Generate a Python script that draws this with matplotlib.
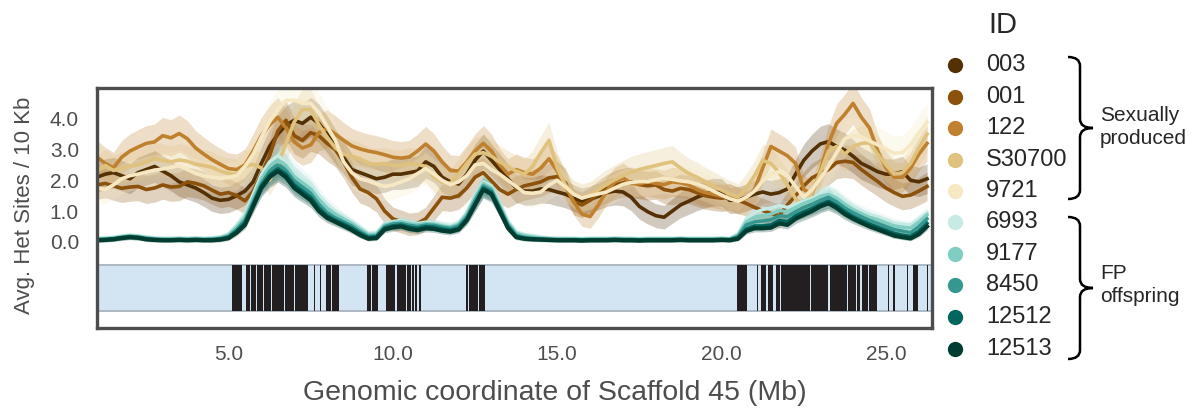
import numpy as np
import matplotlib
matplotlib.use("Agg")
import matplotlib.pyplot as plt
from matplotlib.path import Path
from matplotlib.patches import PathPatch
from matplotlib.lines import Line2D

plt.rcParams['font.family'] = ['Liberation Sans', 'DejaVu Sans']

# ---------------- data ----------------
window_start_mb = 1.0
window_step_mb = 0.25

ids = ["003", "001", "122", "S30700", "9721", "6993", "9177", "8450", "12512", "12513"]
groups = {"Sexually\nproduced": ["003", "001", "122", "S30700", "9721"],
          "FP\noffspring": ["6993", "9177", "8450", "12512", "12513"]}

het_003 = [2.10, 2.20, 2.25, 2.15, 2.05, 2.25, 2.35, 2.45,
           2.30, 2.15, 1.95, 1.85, 1.75, 1.60, 1.42, 1.35,
           1.38, 1.50, 1.65, 1.95, 2.55, 3.10, 3.50, 3.80,
           3.95, 3.85, 4.05, 3.85, 3.50, 3.10, 2.75, 2.35,
           2.25, 2.15, 2.05, 2.10, 2.20, 2.20, 2.25, 2.30,
           2.60, 2.45, 2.10, 1.95, 1.88, 2.20, 2.65, 2.95,
           2.65, 2.35, 2.05, 1.75, 1.65, 1.65, 1.72, 1.70,
           1.62, 1.55, 1.42, 1.32, 1.38, 1.48, 1.60, 1.65,
           1.62, 1.45, 1.15, 0.98, 0.85, 0.80, 1.00, 1.20,
           1.32, 1.45, 1.55, 1.62, 1.60, 1.35, 1.36, 1.45,
           1.55, 1.62, 1.55, 1.60, 1.72, 2.20, 2.65, 2.95,
           3.18, 3.26, 3.10, 2.98, 2.78, 2.55, 2.42, 2.28,
           2.20, 2.20, 2.28, 2.00, 1.95, 2.05]
het_001 = [1.85, 1.90, 1.82, 1.74, 1.78, 1.80, 1.70, 1.75,
           1.85, 1.78, 1.80, 1.95, 1.90, 1.82, 1.68, 1.55,
           1.60, 1.50, 1.33, 1.65, 2.20, 2.80, 3.60, 3.95,
           3.45, 3.30, 3.55, 3.45, 3.20, 3.00, 2.60, 2.10,
           1.72, 1.60, 1.40, 1.00, 0.75, 0.66, 0.57, 0.60,
           0.75, 1.10, 1.45, 1.42, 1.50, 1.75, 2.10, 2.25,
           1.98, 1.70, 1.55, 1.70, 1.82, 1.88, 1.95, 2.08,
           2.12, 1.92, 1.30, 1.20, 1.35, 1.55, 1.72, 1.85,
           1.92, 1.95, 1.86, 1.82, 1.85, 1.70, 1.65, 1.74,
           1.70, 1.60, 1.50, 1.45, 1.42, 1.45, 1.35, 1.25,
           1.12, 1.02, 0.92, 0.85, 1.20, 1.50, 1.82, 2.08,
           2.22, 2.35, 2.58, 2.62, 2.58, 2.35, 2.15, 1.96,
           1.75, 1.60, 1.48, 1.52, 1.65, 1.80]
het_122 = [2.75, 2.55, 2.40, 2.75, 2.95, 3.08, 3.20, 3.25,
           3.45, 3.38, 3.52, 3.35, 3.05, 2.85, 2.67, 2.52,
           2.38, 2.35, 2.50, 2.95, 3.45, 3.80, 4.05, 3.70,
           3.25, 3.05, 3.15, 3.55, 3.68, 3.50, 3.30, 3.12,
           3.02, 2.95, 2.90, 2.83, 2.75, 2.72, 2.76, 2.95,
           3.18, 2.95, 2.60, 2.32, 2.30, 2.60, 2.95, 3.20,
           2.95, 2.50, 2.20, 2.35, 2.25, 2.20, 2.40, 2.70,
           2.30, 1.80, 1.30, 0.90, 0.82, 1.20, 1.65, 1.95,
           2.08, 1.90, 1.88, 1.96, 1.90, 1.86, 1.95, 1.92,
           1.85, 1.70, 1.60, 1.55, 1.48, 1.45, 1.32, 1.42,
           1.70, 2.40, 3.10, 2.95, 2.80, 2.55, 1.70, 1.55,
           2.30, 3.20, 3.85, 4.15, 4.50, 4.05, 3.70, 2.95,
           2.40, 2.10, 2.10, 2.40, 2.85, 3.20]
het_S30700 = [2.30, 2.48, 2.32, 2.40, 2.46, 2.50, 2.60, 2.70,
              2.65, 2.60, 2.66, 2.62, 2.52, 2.48, 2.42, 2.30,
              2.22, 2.20, 2.45, 2.52, 2.40, 2.00, 2.50, 3.20,
              3.90, 4.30, 4.30, 3.80, 3.40, 3.05, 2.85, 2.78,
              2.70, 2.55, 2.52, 2.55, 2.48, 2.47, 2.54, 2.52,
              2.45, 2.10, 1.94, 1.90, 2.20, 2.55, 2.85, 2.90,
              2.78, 2.60, 2.45, 2.30, 2.20, 2.45, 2.90, 3.30,
              2.40, 1.85, 1.55, 1.45, 1.52, 1.70, 1.88, 2.02,
              2.15, 2.28, 2.35, 2.42, 2.48, 2.55, 2.60, 2.40,
              2.22, 2.10, 1.95, 1.82, 1.68, 1.55, 1.45, 1.75,
              2.15, 2.65, 2.55, 2.25, 1.85, 1.40, 1.15, 1.60,
              2.25, 2.95, 3.10, 2.85, 3.10, 3.20, 3.22, 2.85,
              2.50, 2.20, 2.25, 2.55, 3.05, 3.50]
het_9721 = [1.75, 1.70, 1.85, 2.05, 2.15, 2.20, 2.27, 2.33,
            2.37, 2.42, 2.48, 2.35, 2.22, 2.15, 2.10, 2.07,
            2.10, 2.15, 2.45, 2.85, 3.40, 3.90, 4.30, 4.60,
            4.60, 4.50, 4.50, 4.20, 3.75, 3.30, 2.60, 2.25,
            2.05, 1.98, 1.88, 1.80, 1.85, 1.95, 2.05, 2.22,
            2.38, 2.20, 2.00, 1.86, 1.95, 2.15, 2.50, 2.55,
            2.35, 2.20, 2.00, 1.80, 1.60, 1.58, 1.62, 1.85,
            2.00, 1.78, 1.55, 1.42, 1.50, 1.56, 1.62, 1.75,
            1.87, 1.93, 1.96, 1.96, 2.02, 2.07, 2.03, 1.98,
            1.95, 1.88, 1.78, 1.65, 1.52, 1.40, 1.32, 1.45,
            1.65, 1.98, 2.20, 2.28, 2.15, 1.80, 1.45, 1.70,
            2.05, 2.45, 2.90, 3.35, 3.45, 3.42, 3.28, 3.15,
            3.02, 2.88, 2.90, 3.15, 3.55, 3.88]
het_6993 = [0.12, 0.13, 0.15, 0.19, 0.22, 0.20, 0.16, 0.13,
            0.12, 0.12, 0.13, 0.12, 0.13, 0.12, 0.13, 0.16,
            0.26, 0.55, 0.90, 1.55, 2.18, 2.60, 2.80, 2.62,
            2.25, 2.05, 1.85, 1.50, 1.22, 1.00, 0.82, 0.66,
            0.48, 0.28, 0.30, 0.60, 0.66, 0.70, 0.64, 0.60,
            0.64, 0.62, 0.56, 0.52, 0.62, 0.95, 1.52, 1.95,
            1.82, 1.25, 0.68, 0.32, 0.24, 0.20, 0.16, 0.13,
            0.12, 0.12, 0.12, 0.11, 0.12, 0.12, 0.12, 0.13,
            0.12, 0.12, 0.11, 0.12, 0.12, 0.12, 0.12, 0.13,
            0.12, 0.12, 0.12, 0.12, 0.13, 0.12, 0.26, 0.75,
            0.95, 1.05, 1.10, 1.18, 1.12, 1.22, 1.32, 1.42,
            1.55, 1.60, 1.48, 1.30, 1.12, 1.00, 0.90, 0.82,
            0.72, 0.62, 0.58, 0.55, 0.75, 0.95]
het_9177 = [0.10, 0.11, 0.13, 0.17, 0.20, 0.18, 0.14, 0.11,
            0.10, 0.10, 0.11, 0.10, 0.11, 0.10, 0.11, 0.14,
            0.22, 0.48, 0.80, 1.42, 2.05, 2.45, 2.65, 2.48,
            2.12, 1.92, 1.72, 1.38, 1.10, 0.90, 0.75, 0.60,
            0.42, 0.24, 0.25, 0.55, 0.62, 0.66, 0.60, 0.56,
            0.60, 0.58, 0.52, 0.48, 0.58, 0.90, 1.45, 1.90,
            1.75, 1.18, 0.62, 0.28, 0.20, 0.16, 0.13, 0.11,
            0.10, 0.10, 0.10, 0.09, 0.10, 0.10, 0.10, 0.11,
            0.10, 0.10, 0.09, 0.10, 0.10, 0.10, 0.10, 0.11,
            0.10, 0.10, 0.10, 0.10, 0.11, 0.10, 0.22, 0.65,
            0.80, 0.85, 0.90, 1.02, 0.98, 1.12, 1.25, 1.35,
            1.48, 1.55, 1.42, 1.22, 1.05, 0.92, 0.80, 0.72,
            0.62, 0.52, 0.48, 0.45, 0.65, 0.88]
het_8450 = [0.08, 0.09, 0.11, 0.15, 0.18, 0.16, 0.12, 0.09,
            0.08, 0.08, 0.09, 0.08, 0.09, 0.08, 0.09, 0.11,
            0.18, 0.40, 0.70, 1.30, 1.90, 2.30, 2.50, 2.32,
            1.98, 1.78, 1.58, 1.22, 0.95, 0.78, 0.65, 0.52,
            0.34, 0.18, 0.20, 0.50, 0.58, 0.60, 0.54, 0.50,
            0.55, 0.54, 0.48, 0.44, 0.52, 0.82, 1.35, 1.82,
            1.68, 1.12, 0.56, 0.22, 0.15, 0.12, 0.10, 0.09,
            0.08, 0.08, 0.08, 0.07, 0.08, 0.08, 0.08, 0.09,
            0.08, 0.08, 0.07, 0.08, 0.08, 0.08, 0.08, 0.09,
            0.08, 0.08, 0.08, 0.08, 0.09, 0.08, 0.18, 0.55,
            0.65, 0.68, 0.72, 0.85, 0.82, 0.98, 1.12, 1.22,
            1.35, 1.45, 1.30, 1.10, 0.95, 0.82, 0.70, 0.60,
            0.50, 0.40, 0.35, 0.30, 0.50, 0.75]
het_12512 = [0.07, 0.08, 0.10, 0.14, 0.16, 0.14, 0.10, 0.08,
             0.07, 0.07, 0.08, 0.07, 0.08, 0.07, 0.07, 0.09,
             0.15, 0.35, 0.62, 1.22, 1.82, 2.18, 2.38, 2.20,
             1.85, 1.65, 1.45, 1.10, 0.85, 0.70, 0.58, 0.45,
             0.28, 0.14, 0.16, 0.45, 0.52, 0.55, 0.48, 0.44,
             0.50, 0.48, 0.42, 0.38, 0.45, 0.75, 1.25, 1.75,
             1.60, 1.05, 0.50, 0.18, 0.12, 0.10, 0.09, 0.08,
             0.07, 0.07, 0.07, 0.06, 0.07, 0.07, 0.07, 0.08,
             0.07, 0.07, 0.06, 0.07, 0.07, 0.07, 0.07, 0.08,
             0.07, 0.07, 0.07, 0.07, 0.08, 0.07, 0.14, 0.42,
             0.52, 0.52, 0.55, 0.70, 0.66, 0.85, 0.98, 1.08,
             1.22, 1.32, 1.18, 0.98, 0.82, 0.70, 0.58, 0.48,
             0.38, 0.28, 0.22, 0.18, 0.35, 0.60]
het_12513 = [0.05, 0.06, 0.08, 0.12, 0.15, 0.13, 0.08, 0.06,
             0.05, 0.05, 0.06, 0.05, 0.06, 0.05, 0.05, 0.07,
             0.12, 0.30, 0.55, 1.15, 1.75, 2.10, 2.30, 2.10,
             1.75, 1.55, 1.35, 1.00, 0.78, 0.65, 0.52, 0.38,
             0.22, 0.10, 0.12, 0.40, 0.47, 0.50, 0.42, 0.38,
             0.44, 0.42, 0.36, 0.33, 0.40, 0.70, 1.20, 1.70,
             1.55, 1.00, 0.45, 0.15, 0.10, 0.08, 0.07, 0.06,
             0.05, 0.05, 0.05, 0.04, 0.05, 0.05, 0.05, 0.06,
             0.05, 0.05, 0.04, 0.05, 0.05, 0.05, 0.05, 0.06,
             0.05, 0.05, 0.05, 0.05, 0.06, 0.05, 0.10, 0.35,
             0.44, 0.44, 0.46, 0.60, 0.55, 0.75, 0.88, 1.00,
             1.15, 1.25, 1.10, 0.90, 0.75, 0.62, 0.50, 0.40,
             0.30, 0.20, 0.15, 0.11, 0.25, 0.50]

# regions marked in the lower track (start Mb, end Mb)
track_start_mb = [5.11, 5.52, 5.69, 5.88, 6.08, 6.33, 6.73, 7.03, 7.59, 7.78, 7.98, 8.15,
                  9.22, 9.37, 9.78, 10.13, 10.43, 10.58, 10.68, 10.78, 12.22, 12.33, 12.62,
                  20.46, 21.07, 21.20, 21.40, 21.66, 21.81, 22.12, 22.71, 23.29, 23.84, 24.12,
                  24.26, 24.49, 25.06, 25.22, 25.63, 25.83, 26.24]
track_end_mb = [5.42, 5.65, 5.85, 6.05, 6.28, 6.70, 7.00, 7.41, 7.64, 7.82, 8.12, 8.35,
                9.32, 9.54, 10.05, 10.40, 10.55, 10.63, 10.73, 10.87, 12.29, 12.60, 12.81,
                20.77, 21.11, 21.35, 21.56, 21.78, 22.10, 22.69, 23.25, 23.81, 24.09, 24.21,
                24.46, 24.72, 25.10, 25.26, 25.67, 25.98, 26.28]

xticks = [5, 10, 15, 20, 25]
yticks = [0, 1, 2, 3, 4]

series = {"003": het_003, "001": het_001, "122": het_122, "S30700": het_S30700,
          "9721": het_9721, "6993": het_6993, "9177": het_9177, "8450": het_8450,
          "12512": het_12512, "12513": het_12513}

# ---------------- style ----------------
colors = {"003": "#543005", "001": "#8c510a", "122": "#bf812d", "S30700": "#dfc27d",
          "9721": "#f6e8c3", "6993": "#c7eae5", "9177": "#80cdc1", "8450": "#35978f",
          "12512": "#01665e", "12513": "#003c30"}
W, H = 1197, 415
fig = plt.figure(figsize=(W / 100, H / 100), dpi=100)
ax = fig.add_axes([97 / W, 1 - 328 / H, (932 - 97) / W, (328 - 88) / H])

n = len(het_003)
for k, v in series.items():
    assert len(v) == n, k
pos_mb = window_start_mb + window_step_mb * np.arange(n)

for k in ids:
    v = np.asarray(series[k])
    if k in groups["FP\noffspring"]:
        hw = 0.06 + 0.13 * v
        lw = 3.0 if k == "12513" else 2.4
    else:
        hw = 0.32 + 0.08 * v
        lw = 2.6
    ax.fill_between(pos_mb, v - hw, v + hw, color=colors[k], alpha=0.26, lw=0)
    ax.plot(pos_mb, v, color=colors[k], lw=lw, solid_joinstyle='round')

# lower track
trk_lo, trk_hi = -2.25, -0.75
ax.axhspan(trk_lo, trk_hi, facecolor="#d3e5f3", edgecolor="none", zorder=1)
ax.axhline(trk_lo, color="#a8b3bc", lw=1.3, zorder=1.5)
ax.axhline(trk_hi, color="#a8b3bc", lw=1.3, zorder=1.5)
ax.broken_barh([(s, e - s) for s, e in zip(track_start_mb, track_end_mb)],
               (trk_lo, trk_hi - trk_lo), facecolors="#231f20", edgecolor="none", zorder=2)

ax.set_xlim(1.0, 26.4)
ax.set_ylim(-2.8, 5.0)
ax.set_xticks(xticks)
ax.set_xticklabels([f"{t:.1f}" for t in xticks])
ax.set_yticks(yticks)
ax.set_yticklabels([f"{t:.1f}" for t in yticks])
ax.tick_params(axis='both', length=0, labelsize=15, labelcolor="#4d4d4d")
ax.tick_params(axis='y', pad=13)
ax.tick_params(axis='x', pad=12)
for sp in ax.spines.values():
    sp.set_color("#4d4d4d")
    sp.set_linewidth(2.4)

fig.text(25 / W, 1 - 205 / H, "Avg. Het Sites / 10 Kb", rotation=90, ha="center", va="center",
         fontsize=16, color="#4d4d4d")
fig.text(555 / W, 1 - 393 / H, "Genomic coordinate of Scaffold 45 (Mb)", ha="center", va="center",
         fontsize=20.5, color="#4d4d4d")

# legend
fig.text(1003 / W, 1 - 25 / H, "ID", ha="center", va="center", fontsize=21, color="#262626")
row_y = [65, 97, 128, 160, 191, 222, 254, 285, 317, 349]
for k, yy in zip(ids, row_y):
    fig.add_artist(Line2D([955 / W], [1 - yy / H], marker="o", markersize=11, color=colors[k],
                          markeredgewidth=0, linestyle="none", transform=fig.transFigure))
    fig.text(986 / W, 1 - yy / H, k, ha="left", va="center", fontsize=17, color="#262626")


def brace(x0, y_top, y_bot, x_spine, x_tip):
    r = 9
    y_mid = (y_top + y_bot) / 2
    pts = [(x0, y_top), (x_spine, y_top), (x_spine, y_top + r),
           (x_spine, y_mid - r), (x_spine, y_mid), (x_tip, y_mid),
           (x_spine, y_mid), (x_spine, y_mid + r),
           (x_spine, y_bot - r), (x_spine, y_bot), (x0, y_bot)]
    codes = [Path.MOVETO, Path.CURVE3, Path.CURVE3,
             Path.LINETO, Path.CURVE3, Path.CURVE3,
             Path.CURVE3, Path.CURVE3,
             Path.LINETO, Path.CURVE3, Path.CURVE3]
    verts = [(x / W, 1 - y / H) for x, y in pts]
    fig.add_artist(PathPatch(Path(verts, codes), facecolor="none", edgecolor="black", lw=1.8,
                             transform=fig.transFigure))


brace(1068, 57, 199, 1080, 1093)
brace(1068, 217, 359, 1080, 1093)
fig.text(1100 / W, 1 - 127 / H, "Sexually\nproduced", ha="left", va="center", fontsize=15,
         color="#262626", linespacing=1.3)
fig.text(1100 / W, 1 - 285 / H, "FP\noffspring", ha="left", va="center", fontsize=15,
         color="#262626", linespacing=1.3)

fig.savefig("out.png", dpi=100)
